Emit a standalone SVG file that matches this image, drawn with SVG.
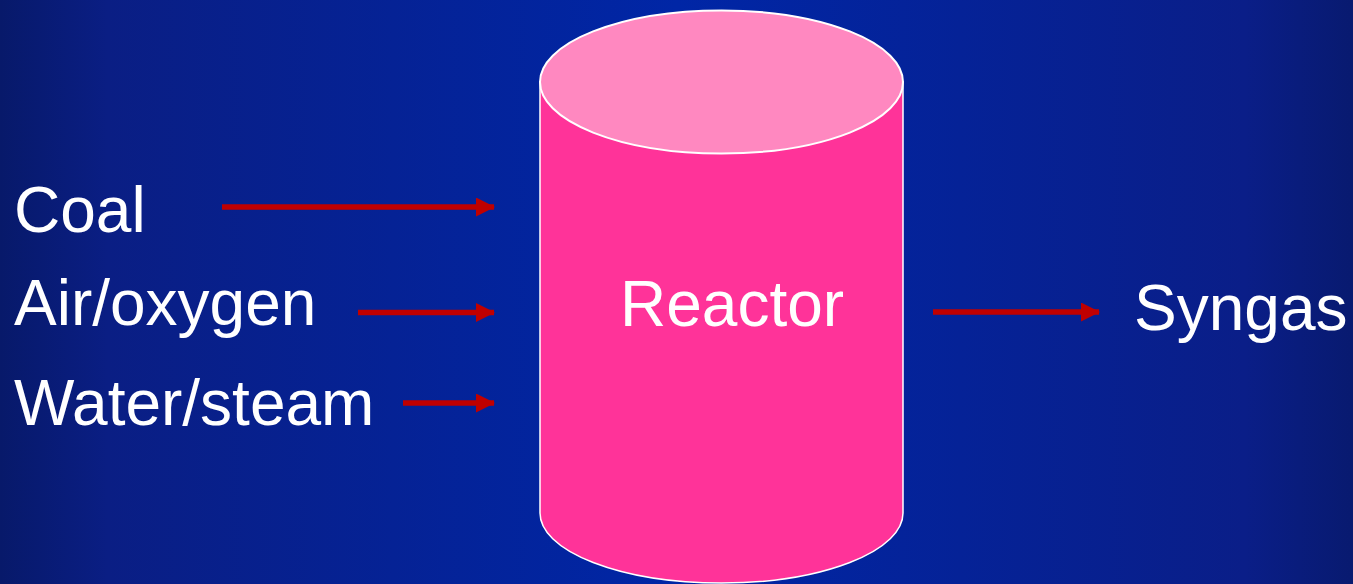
<svg xmlns="http://www.w3.org/2000/svg" width="1353" height="584" viewBox="0 0 1353 584">
<style>
.lbl{font-family:"Liberation Sans",Arial,sans-serif;font-size:64px;fill:#ffffff}
.arr{stroke:#c00000;stroke-width:5.5;fill:none}
</style>
<defs>
<linearGradient id="bg" x1="0" y1="0" x2="1" y2="0">
<stop offset="0" stop-color="#07196a"/>
<stop offset="0.08" stop-color="#0a1e84"/>
<stop offset="0.5" stop-color="#0026a6"/>
<stop offset="0.92" stop-color="#0a1e88"/>
<stop offset="1" stop-color="#081a70"/>
</linearGradient>
<marker id="ah" markerWidth="19" markerHeight="19" refX="18" refY="9.5" orient="auto" markerUnits="userSpaceOnUse">
<path d="M0,0 L19,9.5 L0,19 Z" fill="#c00000"/>
</marker>
</defs>
<rect width="1353" height="584" fill="url(#bg)"/>
<g id="reactor">
<path d="M540,82 L540,513 A181.5,70 0 0 0 903,513 L903,82 Z" fill="#ff3399" stroke="#ffffff" stroke-width="1.5"/>
<ellipse cx="721.5" cy="82" rx="181.5" ry="71.5" fill="#ff88c0" stroke="#ffffff" stroke-width="2"/>
<text class="lbl" x="620" y="326">Reactor</text>
</g>
<g id="coal"><text class="lbl" x="14" y="232">Coal</text></g>
<g id="air"><text class="lbl" x="14" y="325">Air/oxygen</text></g>
<g id="water"><text class="lbl" x="14" y="425">Water/steam</text></g>
<g id="syngas"><text class="lbl" x="1134" y="330">Syngas</text></g>
<g id="connectors">
<line class="arr" x1="222" y1="207" x2="494" y2="207" marker-end="url(#ah)"/>
<line class="arr" x1="358" y1="312.5" x2="494" y2="312.5" marker-end="url(#ah)"/>
<line class="arr" x1="403" y1="403" x2="494" y2="403" marker-end="url(#ah)"/>
<line class="arr" x1="933" y1="312" x2="1099" y2="312" marker-end="url(#ah)"/>
</g>
</svg>
